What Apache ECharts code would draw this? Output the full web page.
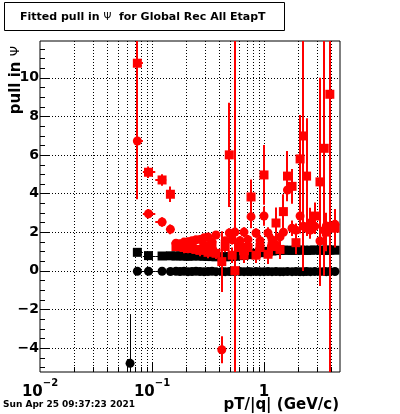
<!DOCTYPE html>
<html><head><meta charset="utf-8">
<script src="https://cdn.jsdelivr.net/npm/echarts@6/dist/echarts.min.js"></script>
<style>html,body{margin:0;padding:0;background:#fff}#c{width:400px;height:414px}</style>
</head><body><div id="c"></div>
<script>
const FONT = 'DejaVu Sans';
const X_MIN = 0.01, X_MAX = 4.77, Y_MIN = -5.25, Y_MAX = 11.9;

// pT/|q| bin centres (GeV/c)
const pt = [0.0637, 0.074, 0.093, 0.123, 0.146, 0.1637, 0.1778, 0.1931, 0.2096, 0.2276,
  0.2471, 0.2683, 0.2913, 0.3162, 0.3433, 0.3728, 0.42, 0.45, 0.49, 0.52,
  0.55, 0.6105, 0.6629, 0.7197, 0.766, 0.8483, 0.921, 1.0, 1.0857, 1.1788,
  1.28, 1.3895, 1.49, 1.62, 1.78, 1.93, 2.1, 2.25, 2.4, 2.6,
  2.84, 3.16, 3.45, 3.6, 3.87, 4.3];

// black circles
const blackCircle = [-4.8, -0.03, -0.03, -0.03, -0.04, -0.03, -0.04, -0.03, -0.05, -0.04,
  -0.03, -0.04, -0.05, -0.04, -0.03, -0.05, -0.04, -0.05, -0.04, -0.03,
  -0.05, -0.04, -0.05, -0.04, -0.05, -0.04, -0.05, -0.05, -0.04, -0.05,
  -0.04, -0.05, -0.05, -0.04, -0.05, -0.04, -0.05, -0.05, -0.04, -0.05,
  -0.04, -0.05, -0.04, -0.05, -0.04, -0.04];
const blackCircleErr = [2.55, 0.03, 0.03, 0.03, 0.03, 0.03, 0.03, 0.03, 0.03, 0.03,
  0.03, 0.03, 0.03, 0.03, 0.03, 0.03, 0.03, 0.03, 0.03, 0.03,
  0.03, 0.03, 0.03, 0.03, 0.03, 0.03, 0.03, 0.03, 0.03, 0.03,
  0.03, 0.03, 0.03, 0.03, 0.03, 0.03, 0.03, 0.03, 0.03, 0.03,
  0.03, 0.03, 0.03, 0.03, 0.03, 0.03];

// black squares
const blackSquare = [null, 0.95, 0.78, 0.76, 0.77, 0.76, 0.77, 0.76, 0.75, 0.76,
  0.77, 0.76, 0.75, 0.74, 0.73, 0.72, 0.72, 0.72, 0.73, 0.74,
  0.75, 0.78, 0.8, 0.83, 0.86, 0.9, 0.93, 0.96, 1.0, 1.02,
  1.04, 1.05, 1.06, 1.06, 1.05, 1.06, 1.07, 1.06, 1.05, 1.06,
  1.07, 1.06, 1.05, 1.06, 1.07, 1.06];
const blackSquareErr = [null, 0.03, 0.03, 0.03, 0.03, 0.03, 0.03, 0.03, 0.03, 0.03,
  0.03, 0.03, 0.03, 0.03, 0.03, 0.03, 0.03, 0.03, 0.03, 0.03,
  0.03, 0.03, 0.03, 0.03, 0.03, 0.03, 0.03, 0.03, 0.03, 0.03,
  0.03, 0.03, 0.03, 0.03, 0.03, 0.03, 0.03, 0.03, 0.03, 0.03,
  0.03, 0.03, 0.03, 0.03, 0.03, 0.03];

// red circles
const redCircle = [null, 6.72, 2.95, 2.52, 2.14, 1.42, 1.4, 1.48, 1.5, 1.55,
  1.6, 1.62, 1.7, 1.75, 1.5, 1.85, -4.1, 1.55, 1.95, 1.6,
  2.0, 1.55, 2.0, 1.6, 2.8, 1.95, 1.55, 2.83, 1.95, 1.6,
  1.35, 1.75, 1.99, 4.18, 2.2, 2.1, 2.83, 2.3, 2.2, 2.1,
  2.3, 1.54, 2.1, 2.32, 2.3, 2.4];
const redCircleErr = [null, 3.0, 0.25, 0.25, 0.25, 0.2, 0.2, 0.2, 0.2, 0.2,
  0.2, 0.2, 0.2, 0.2, 0.2, 0.2, 0.7, 0.2, 0.25, 0.25,
  20, 0.25, 0.25, 0.25, 0.6, 0.25, 0.3, 0.5, 0.3, 0.3,
  0.3, 0.3, 0.35, 0.5, 0.4, 0.35, 0.9, 0.4, 0.4, 0.4,
  0.4, 0.8, 0.4, 0.4, 0.4, 0.4];

// red squares
const redSquare = [null, 10.75, 5.1, 4.7, 3.96, 1.25, 1.3, 1.2, 1.15, 1.2,
  1.1, 1.05, 1.3, 0.95, 1.3, 0.9, 0.47, 1.25, 6.0, 0.8,
  0.0, 1.2, 0.8, 1.2, 3.82, 0.8, 1.2, 4.96, 0.85, 1.25,
  2.47, 1.1, 3.06, 4.9, 4.37, 1.45, 5.79, 6.98, 4.9, 2.46,
  2.83, 4.6, 6.34, 2.0, 9.14, 2.2];
const redSquareErr = [null, 7.05, 0.3, 0.3, 0.4, 0.25, 0.25, 0.3, 0.25, 0.3,
  0.25, 0.3, 0.3, 0.3, 0.3, 0.3, 1.57, 0.3, 2.7, 0.4,
  20, 0.4, 0.4, 0.4, 0.9, 0.4, 0.5, 1.55, 0.5, 0.5,
  0.8, 0.5, 0.9, 1.3, 0.9, 0.6, 2.27, 7.0, 3.0, 0.8,
  0.7, 5.4, 6.6, 1.0, 20, 1.0];

const xMinorTicks = [0.02, 0.03, 0.04, 0.05, 0.06, 0.07, 0.08, 0.09,
  0.2, 0.3, 0.4, 0.5, 0.6, 0.7, 0.8, 0.9, 2, 3, 4];
const xDecadeTicks = [0.1, 1];
const yMajorTicks = [-4, -2, 0, 2, 4, 6, 8, 10];
const yMinorTicks = [-5, -4.5, -3.5, -3, -2.5, -1.5, -1, -0.5, 0.5, 1, 1.5, 2.5, 3, 3.5,
  4.5, 5, 5.5, 6.5, 7, 7.5, 8.5, 9, 9.5, 10.5, 11, 11.5];

const titleText = 'Fitted pull in ';
const titleSym = 'Ψ';
const titleRest = '  for Global Rec All EtapT';
const yTitle = 'pull in ';
const xTitle = 'pT/|q| (GeV/c)';
const dateText = 'Sun Apr 25 09:37:23 2021';

// ---------- build ----------
function binLo(i) { return i > 0 ? Math.sqrt(pt[i - 1] * pt[i]) : 0; }
function binHi(i) { return i < pt.length - 1 ? Math.sqrt(pt[i + 1] * pt[i]) : pt[i] * Math.sqrt(pt[i] / pt[i - 1]); }
function errData(vals, errs) {
  const out = [];
  pt.forEach((x, i) => { if (vals[i] != null) out.push([x, vals[i], errs[i], i === 0 ? 0 : binLo(i), i === 0 ? 0 : binHi(i)]); });
  return out;
}
function ptData(vals) {
  const out = [];
  pt.forEach((x, i) => { if (vals[i] != null) out.push([x, vals[i]]); });
  return out;
}
const clampY = v => Math.max(Y_MIN, Math.min(Y_MAX, v));
function errRender(color, w) {
  const off = w % 2 === 1 ? 0.5 : 0;
  return function (params, api) {
    const x = api.value(0), y = api.value(1), e = api.value(2), xl = api.value(3), xh = api.value(4);
    const pTop = api.coord([x, clampY(y + e)]), pBot = api.coord([x, clampY(y - e)]);
    const px = Math.round(pTop[0]) + off;
    const ch = [{ type: 'line', shape: { x1: px, y1: pTop[1], x2: px, y2: pBot[1] }, style: { stroke: color, lineWidth: w } }];
    if (xl > 0) {
      const a = api.coord([xl, y]), b = api.coord([xh, y]);
      const py = Math.round(a[1]) + off;
      ch.push({ type: 'line', shape: { x1: a[0], y1: py, x2: b[0], y2: py }, style: { stroke: color, lineWidth: w } });
    }
    return { type: 'group', children: ch };
  };
}

const decoData = [];
xMinorTicks.forEach(v => decoData.push([v, 0, 0]));
xDecadeTicks.forEach(v => decoData.push([v, 0, 1]));
yMinorTicks.forEach(v => decoData.push([X_MIN, v, 2]));
yMajorTicks.forEach(v => decoData.push([X_MIN, v, 3]));

function decoRender(params, api) {
  const k = api.value(2);
  const dot = { stroke: '#000', lineWidth: 1, lineDash: [1, 2] };
  const solid = { stroke: '#000', lineWidth: 1 };
  if (k < 2) {
    const v = api.value(0);
    const b = api.coord([v, Y_MIN]), t = api.coord([v, Y_MAX]);
    const x = Math.round(b[0]) + 0.5;
    const len = k === 1 ? 10 : 5;
    return { type: 'group', children: [
      { type: 'line', shape: { x1: x, y1: t[1], x2: x, y2: b[1] }, style: dot },
      { type: 'line', shape: { x1: x, y1: b[1], x2: x, y2: b[1] - len }, style: solid }
    ] };
  } else {
    const v = api.value(1);
    const l = api.coord([X_MIN, v]), r = api.coord([X_MAX, v]);
    const y = Math.round(l[1]) + 0.5;
    const len = k === 3 ? 9 : 5;
    const ch = [{ type: 'line', shape: { x1: l[0], y1: y, x2: l[0] + len, y2: y }, style: solid }];
    if (k === 3) ch.unshift({ type: 'line', shape: { x1: l[0], y1: y, x2: r[0], y2: y }, style: dot });
    return { type: 'group', children: ch };
  }
}

const chart = echarts.init(document.getElementById('c'), null, { renderer: 'canvas' });
chart.setOption({
  animation: false,
  backgroundColor: '#fff',
  grid: { left: 40, top: 41, right: 60, bottom: 42, show: true, borderColor: '#000', borderWidth: 1, backgroundColor: 'transparent' },
  xAxis: {
    type: 'log', logBase: 10, min: X_MIN, max: X_MAX,
    axisLine: { show: false }, axisTick: { show: false }, splitLine: { show: false },
    axisLabel: {
      showMaxLabel: false, margin: 6, color: '#000',
      formatter: function (v) {
        const e = Math.round(Math.log(v) / Math.LN10);
        if (e === 0) return '{m|1}';
        return '{m|10}{s|' + (e < 0 ? '\u2212' : '') + Math.abs(e) + '}';
      },
      rich: {
        m: { fontFamily: FONT, fontWeight: 'bold', fontSize: 15, lineHeight: 22, verticalAlign: 'bottom', color: '#000' },
        s: { fontFamily: FONT, fontWeight: 'bold', fontSize: 10, lineHeight: 12, verticalAlign: 'top', color: '#000' }
      }
    }
  },
  yAxis: {
    type: 'value', min: Y_MIN, max: Y_MAX, splitNumber: 8,
    axisLine: { show: false }, axisTick: { show: false }, splitLine: { show: false },
    axisLabel: {
      showMinLabel: false, showMaxLabel: false, margin: 1, color: '#000',
      fontFamily: FONT, fontWeight: 'bold', fontSize: 14,
      formatter: v => (v < 0 ? '\u2212' + (-v) : '' + v)
    }
  },
  series: [
    { type: 'custom', data: decoData, renderItem: decoRender, encode: { x: 0, y: 1 }, silent: true, z: 1 },
    { type: 'custom', data: errData(blackCircle, blackCircleErr), renderItem: errRender('#000', 1), encode: { x: 0, y: 1 }, clip: true, z: 2 },
    { type: 'scatter', data: ptData(blackCircle), symbol: 'circle', symbolSize: 9, itemStyle: { color: '#000', opacity: 1 }, z: 3 },
    { type: 'custom', data: errData(blackSquare, blackSquareErr), renderItem: errRender('#000', 1), encode: { x: 0, y: 1 }, clip: true, z: 4 },
    { type: 'scatter', data: ptData(blackSquare), symbol: 'rect', symbolSize: 9, itemStyle: { color: '#000', opacity: 1 }, z: 5 },
    { type: 'custom', data: errData(redCircle, redCircleErr), renderItem: errRender('#ff0000', 2), encode: { x: 0, y: 1 }, clip: true, z: 6 },
    { type: 'scatter', data: ptData(redCircle), symbol: 'circle', symbolSize: 9, itemStyle: { color: '#ff0000', opacity: 1 }, z: 7 },
    { type: 'custom', data: errData(redSquare, redSquareErr), renderItem: errRender('#ff0000', 2), encode: { x: 0, y: 1 }, clip: true, z: 8 },
    { type: 'scatter', data: ptData(redSquare), symbol: 'rect', symbolSize: 9, itemStyle: { color: '#ff0000', opacity: 1 }, z: 9 }
  ],
  graphic: [
    { type: 'rect', shape: { x: 4.5, y: 2.5, width: 280, height: 28 }, style: { fill: '#fff', stroke: '#000', lineWidth: 1 }, z: 100 },
    { type: 'text', x: 20, y: 17, z: 101, style: {
      text: '{b|' + titleText + '}{p|' + titleSym + '}{b|' + titleRest + '}',
      textAlign: 'left', align: 'left', textVerticalAlign: 'middle', verticalAlign: 'middle',
      rich: {
        b: { fontFamily: FONT, fontWeight: 'bold', fontSize: 11, fill: '#000', color: '#000' },
        p: { fontFamily: FONT, fontWeight: 'normal', fontSize: 10, fill: '#000', color: '#000' }
      } } },
    { type: 'text', x: 16, y: 46, rotation: Math.PI / 2, z: 101, style: {
      text: '{b|' + yTitle + '}{p|' + titleSym + '}',
      textAlign: 'right', align: 'right', textVerticalAlign: 'middle', verticalAlign: 'middle',
      rich: {
        b: { fontFamily: FONT, fontWeight: 'bold', fontSize: 15, fill: '#000', color: '#000' },
        p: { fontFamily: FONT, fontWeight: 'normal', fontSize: 13, fill: '#000', color: '#000' }
      } } },
    { type: 'text', x: 339, y: 405, z: 101, style: {
      text: xTitle, fontFamily: FONT, fontWeight: 'bold', fontSize: 15, fill: '#000',
      textAlign: 'right', align: 'right', textVerticalAlign: 'middle', verticalAlign: 'middle' } },
    { type: 'text', x: 3, y: 405, z: 101, style: {
      text: dateText, fontFamily: FONT, fontWeight: 'bold', fontSize: 9, fill: '#000',
      textAlign: 'left', align: 'left', textVerticalAlign: 'middle', verticalAlign: 'middle' } }
  ]
});
</script></body></html>
